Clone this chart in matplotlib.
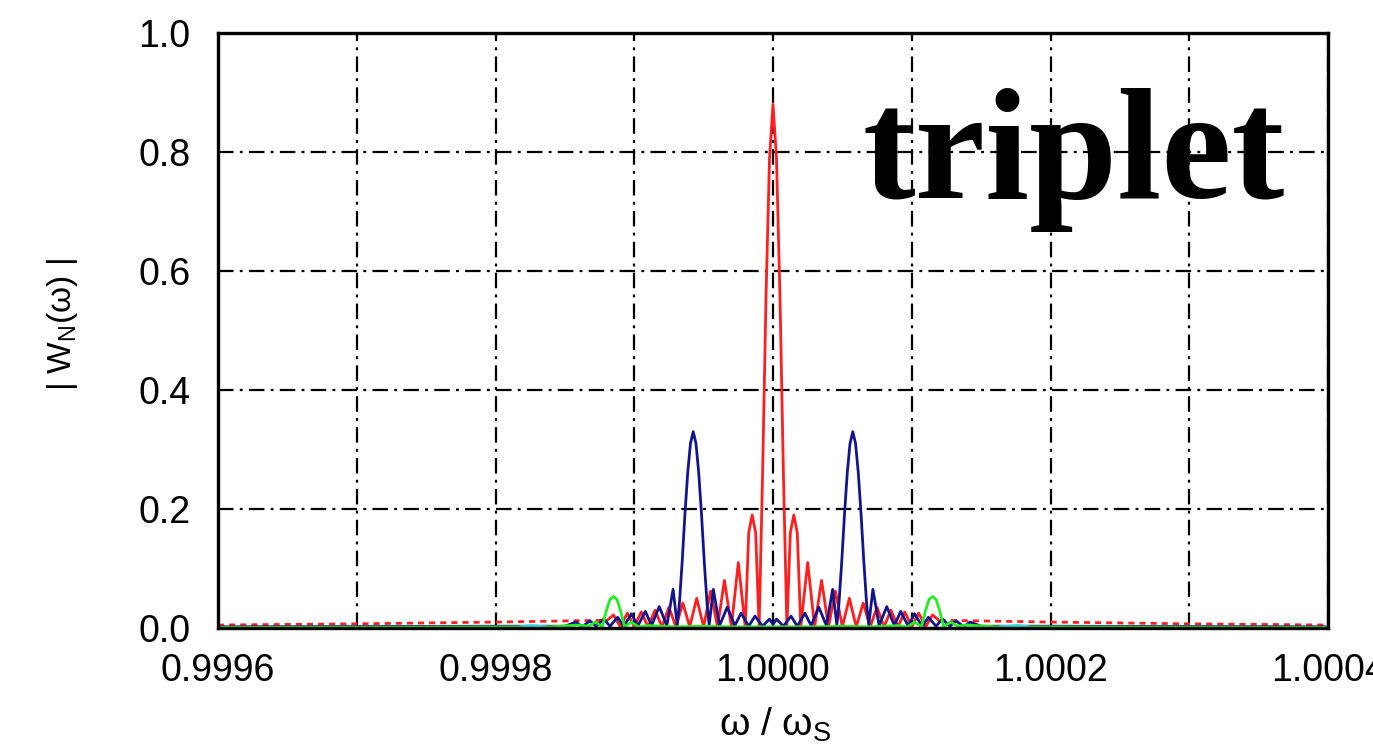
import matplotlib
matplotlib.use("Agg")
import matplotlib.pyplot as plt
import numpy as np

plt.rcParams["font.family"] = ["Liberation Sans", "DejaVu Sans"]
plt.rcParams["mathtext.fontset"] = "custom"
plt.rcParams["mathtext.rm"] = "Liberation Sans"

# frequency offsets in units of 1e-5 (omega/omega_S - 1)
red_d = [-12, -11.5, -11, -10.5, -10, -9.5, -9, -8.5, -8, -7.5, -7, -6.5, -6, -5.5, -5,
         -4.5, -4, -3.5, -3, -2.5, -2, -1.75, -1.5, -1.25, -1, -0.75, -0.5, -0.25, 0,
         0.25, 0.5, 0.75, 1, 1.25, 1.5, 1.75, 2, 2.5, 3, 3.5, 4, 4.5, 5, 5.5, 6, 6.5,
         7, 7.5, 8, 8.5, 9, 9.5, 10, 10.5, 11, 11.5, 12]
red_w = [0.012, 0.022, 0.002, 0.025, 0.002, 0.027, 0.002, 0.03, 0.002, 0.035, 0.002, 0.042, 0.002, 0.05, 0.002,
         0.062, 0.002, 0.08, 0.002, 0.11, 0.002, 0.16, 0.19, 0.16, 0.002, 0.26, 0.56, 0.79, 0.88,
         0.79, 0.56, 0.26, 0.002, 0.16, 0.19, 0.16, 0.002, 0.11, 0.002, 0.08, 0.002, 0.062, 0.002, 0.05, 0.002, 0.042,
         0.002, 0.035, 0.002, 0.03, 0.002, 0.027, 0.002, 0.025, 0.002, 0.022, 0.012]

# far wings of the red curve (fast ripple, drawn dashed)
red_tail_l_d = [-40, -30, -20, -12]
red_tail_l_w = [0.005, 0.007, 0.01, 0.013]
red_tail_r_d = [12, 20, 30, 40]
red_tail_r_w = [0.013, 0.01, 0.007, 0.005]

blue_d = [-40, -20, -15, -14.2, -13.75, -13.2, -12.75, -12.2, -11.75, -11.2, -10.75, -10.2, -9.75, -9.2,
          -8.75, -8.2, -7.65, -7.2, -6.9, -6.75, -6.55, -6.35, -6.15, -5.95, -5.75, -5.55, -5.35, -5.15,
          -4.95, -4.75, -4.6, -4.3, -3.85, -3.3, -2.75, -2.3, -1.75, -1.3, -0.75, -0.25, 0,
          0.25, 0.75, 1.3, 1.75, 2.3, 2.75, 3.3, 3.85, 4.3, 4.6, 4.75, 4.95, 5.15, 5.35, 5.55, 5.75,
          5.95, 6.15, 6.35, 6.55, 6.75, 6.9, 7.2, 7.65, 8.2, 8.75, 9.2, 9.75, 10.2, 10.75, 11.2, 11.75,
          12.2, 12.75, 13.2, 13.75, 14.2, 15, 20, 40]
blue_w = [0.002, 0.003, 0.003, 0.01, 0.002, 0.012, 0.003, 0.015, 0.003, 0.018, 0.003, 0.024, 0.003, 0.028,
          0.004, 0.036, 0.004, 0.065, 0.005, 0.04, 0.11, 0.19, 0.26, 0.31, 0.33, 0.31, 0.26, 0.19,
          0.11, 0.04, 0.005, 0.065, 0.004, 0.035, 0.004, 0.025, 0.003, 0.02, 0.003, 0.015, 0.006,
          0.015, 0.003, 0.02, 0.003, 0.025, 0.004, 0.035, 0.004, 0.065, 0.005, 0.04, 0.11, 0.19, 0.26, 0.31, 0.33,
          0.31, 0.26, 0.19, 0.11, 0.04, 0.005, 0.065, 0.004, 0.036, 0.004, 0.028, 0.003, 0.024, 0.003, 0.018, 0.003,
          0.015, 0.003, 0.012, 0.002, 0.01, 0.003, 0.003, 0.002]

green_d = [-40, -16, -14, -13.3, -12.8, -12.3, -12.0, -11.75, -11.5, -11.25, -11.0, -10.7, -10.2, -9.7,
           -9, -7, -5, -3, 0, 3, 5, 7, 9, 9.7, 10.2, 10.7, 11.0, 11.25, 11.5, 11.75, 12.0, 12.3,
           12.8, 13.3, 14, 16, 40]
green_w = [0.001, 0.002, 0.005, 0.003, 0.01, 0.002, 0.03, 0.048, 0.053, 0.048, 0.03, 0.002, 0.01, 0.002,
           0.004, 0.002, 0.003, 0.002, 0.002, 0.002, 0.003, 0.002, 0.004, 0.002, 0.01, 0.002, 0.03, 0.048,
           0.053, 0.048, 0.03, 0.002, 0.01, 0.003, 0.005, 0.002, 0.001]

cyan_l_d = [-18.2, -17.4, -16.4]
cyan_l_w = [0.002, 0.004, 0.002]
cyan_r_d = [16.4, 17.6, 18.4]
cyan_r_w = [0.002, 0.004, 0.002]

x_ticks = [0.9996, 0.9998, 1.0000, 1.0002, 1.0004]
x_labels = ["0.9996", "0.9998", "1.0000", "1.0002", "1.0004"]
x_grid = [0.9997, 0.9999, 1.0001, 1.0003]
y_ticks = [0.0, 0.2, 0.4, 0.6, 0.8, 1.0]
y_labels = ["0.0", "0.2", "0.4", "0.6", "0.8", "1.0"]


def om(d):
    return 1 + np.asarray(d) * 1e-5


fig = plt.figure(figsize=(13.73, 7.47), dpi=100)
ax = fig.add_axes([218 / 1373, 1 - 628 / 747, 1110 / 1373, 595 / 747])

lw = 2.0
ax.plot(om(red_d), red_w, color="#ff1f1f", lw=lw)
ax.plot(om(red_tail_l_d), red_tail_l_w, color="#ff1f1f", lw=lw, dashes=(2.2, 1.8))
ax.plot(om(red_tail_r_d), red_tail_r_w, color="#ff1f1f", lw=lw, dashes=(2.2, 1.8))
ax.plot(om(blue_d), blue_w, color="#14148c", lw=lw)
ax.plot(om(green_d), green_w, color="#22ee22", lw=lw)
ax.plot(om(cyan_l_d), cyan_l_w, color="#22dddd", lw=lw)
ax.plot(om(cyan_r_d), cyan_r_w, color="#22dddd", lw=lw)

ax.set_xlim(0.9996, 1.0004)
ax.set_ylim(0, 1.0)
ax.set_xticks(x_ticks, x_labels)
ax.set_xticks(x_grid, minor=True)
ax.set_yticks(y_ticks, y_labels)
ax.tick_params(axis="both", which="both", length=0, labelsize=27, colors="black")
ax.tick_params(axis="x", pad=18)
ax.tick_params(axis="y", pad=20)

grid_kw = dict(color="black", lw=1.6, dashes=(7, 2.8, 1.3, 2.8))
ax.grid(axis="x", which="both", **grid_kw)
ax.grid(axis="y", which="major", **grid_kw)

for sp in ax.spines.values():
    sp.set_linewidth(2.4)
    sp.set_color("black")
    sp.set_zorder(5)

fig.text(775 / 1373, 1 - 725 / 747, "ω / ω$_\\mathrm{S}$", ha="center", va="center", fontsize=28)
fig.text(62 / 1373, 1 - 325 / 747, "| W$_\\mathrm{N}$(ω) |", ha="center", va="center",
         rotation=90, fontsize=24)

fig.text(863 / 1373, 1 - 198 / 747, "triplet", ha="left", va="baseline",
         fontsize=114, fontweight="bold", family="Liberation Serif")

fig.savefig("out.png", dpi=100)
